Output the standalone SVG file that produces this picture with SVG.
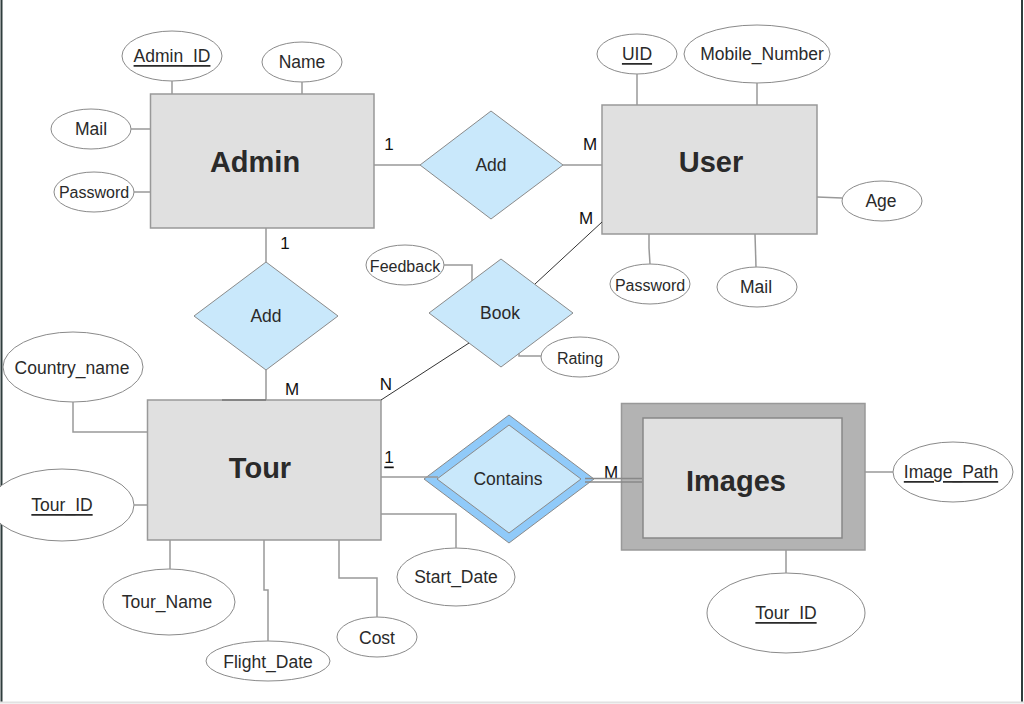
<svg xmlns="http://www.w3.org/2000/svg" width="1024" height="704" viewBox="0 0 1024 704">
<style>
text{font-family:"Liberation Sans",Arial,sans-serif;fill:#2a2a2a;text-anchor:middle;dominant-baseline:central}
.ent{fill:#e0e0e0;stroke:#999;stroke-width:1.5}
.et{font-size:29px;font-weight:bold}
.att{fill:#fff;stroke:#8a8a8a;stroke-width:1}
.at{font-size:17.5px}
.sm{font-size:16px}
.rel{fill:#c9e8fb;stroke:#8a8a8a;stroke-width:1}
.rt{font-size:17.5px}
.card{font-size:17px;fill:#111}
.u{text-decoration:underline}
.c{fill:none;stroke:#999;stroke-width:1.5}
.k{fill:none;stroke:#333;stroke-width:1}
</style>
<rect x="0" y="0" width="1024" height="704" fill="#fff"/>
<line x1="1.5" y1="0" x2="1.5" y2="702" stroke="#2f3d3d" stroke-width="2"/>
<line x1="1022" y1="0" x2="1022" y2="702" stroke="#2f3d3d" stroke-width="2"/>
<line x1="0" y1="702.5" x2="1024" y2="702.5" stroke="#e2e2e2" stroke-width="2"/>

<g id="admin">
<rect class="ent" x="150.5" y="94" width="223.5" height="134"/>
<text class="et" x="255" y="162">Admin</text>
</g>
<g id="admin_id"><ellipse class="att" cx="172" cy="56" rx="50" ry="25"/><text class="at u" x="172" y="56">Admin_ID</text></g>
<g id="admin_name"><ellipse class="att" cx="302" cy="62" rx="40" ry="20"/><text class="at" x="302" y="62">Name</text></g>
<g id="admin_mail"><ellipse class="att" cx="91" cy="129" rx="40" ry="20"/><text class="at" x="91" y="129">Mail</text></g>
<g id="admin_password"><ellipse class="att" cx="94" cy="192" rx="40" ry="20"/><text class="sm" x="94" y="192">Password</text></g>

<g id="rel_add_user">
<polygon class="rel" points="491,111 563,165 491,219 420,165"/>
<text class="rt" x="491" y="165">Add</text>
</g>
<text class="card" x="389" y="144">1</text>
<text class="card" x="590" y="144">M</text>

<g id="user">
<rect class="ent" x="602" y="105" width="215" height="129"/>
<text class="et" x="711" y="162">User</text>
</g>
<g id="user_uid"><ellipse class="att" cx="637" cy="54" rx="40" ry="20"/><text class="at u" x="637" y="54">UID</text></g>
<g id="user_mobile"><ellipse class="att" cx="757" cy="54" rx="73" ry="29"/><text class="at" x="762" y="54">Mobile_Number</text></g>
<g id="user_age"><ellipse class="att" cx="882" cy="201" rx="40" ry="20"/><text class="at" x="881" y="201">Age</text></g>
<g id="user_password"><ellipse class="att" cx="650" cy="284" rx="40" ry="20"/><text class="sm" x="650" y="285">Password</text></g>
<g id="user_mail"><ellipse class="att" cx="757" cy="287" rx="40" ry="20"/><text class="at" x="756" y="287">Mail</text></g>

<g id="rel_book">
<polygon class="rel" points="501,259 573,313 501,367 429,313"/>
<text class="rt" x="500" y="313">Book</text>
</g>
<text class="card" x="586" y="218">M</text>
<text class="card" x="386" y="384">N</text>
<g id="book_feedback"><ellipse class="att" cx="405" cy="265" rx="39" ry="20"/><text class="sm" x="405" y="266">Feedback</text></g>
<g id="book_rating"><ellipse class="att" cx="580" cy="357" rx="39" ry="20"/><text class="sm" x="580" y="358">Rating</text></g>

<g id="rel_add_tour">
<polygon class="rel" points="266,262 338,316 266,370 194,316"/>
<text class="rt" x="266" y="316">Add</text>
</g>
<text class="card" x="285" y="243">1</text>
<text class="card" x="292" y="389">M</text>

<g id="tour">
<rect class="ent" x="147.5" y="400" width="233.5" height="140"/>
<text class="et" x="260" y="468">Tour</text>
</g>
<g id="tour_country"><ellipse class="att" cx="73" cy="367" rx="70" ry="35"/><text class="at" x="72" y="368">Country_name</text></g>
<g id="tour_id"><ellipse class="att" cx="62" cy="505" rx="72" ry="36"/><text class="at u" x="62" y="505">Tour_ID</text></g>
<g id="tour_name"><ellipse class="att" cx="169" cy="602" rx="66" ry="33"/><text class="at" x="167" y="602">Tour_Name</text></g>
<g id="tour_flight"><ellipse class="att" cx="268" cy="661" rx="62" ry="20"/><text class="at" x="268" y="662">Flight_Date</text></g>
<g id="tour_cost"><ellipse class="att" cx="377" cy="637" rx="40" ry="20"/><text class="at" x="377" y="638">Cost</text></g>
<g id="tour_start"><ellipse class="att" cx="456" cy="577" rx="59" ry="29"/><text class="at" x="456" y="577">Start_Date</text></g>

<g id="rel_contains">
<polygon points="509,415 594,479 509,543 424,479" fill="#90caf9" stroke="#8a8a8a" stroke-width="1"/>
<polygon points="509,425 581,479 509,533 437,479" fill="#c9e8fb" stroke="#8a8a8a" stroke-width="1"/>
<text class="rt" x="508" y="479">Contains</text>
</g>
<text class="card u" x="389" y="457">1</text>
<text class="card" x="611" y="472">M</text>

<g id="images">
<rect x="621.5" y="403.5" width="243.5" height="146.5" fill="#b3b3b3" stroke="#999" stroke-width="1.5"/>
<rect x="643" y="418" width="199" height="120" fill="#e0e0e0" stroke="#888" stroke-width="1.5"/>
<text class="et" x="736" y="481">Images</text>
</g>
<g id="images_path"><ellipse class="att" cx="953" cy="472" rx="60" ry="30"/><text class="at u" x="951" y="472">Image_Path</text></g>
<g id="images_tour_id"><ellipse class="att" cx="786" cy="613" rx="79" ry="40"/><text class="at u" x="786" y="613">Tour_ID</text></g>

<g id="connectors">
<line class="c" x1="172" y1="81" x2="172" y2="94"/>
<line class="c" x1="302" y1="82" x2="302" y2="94"/>
<line class="c" x1="131" y1="129" x2="150" y2="129"/>
<line class="c" x1="134" y1="192" x2="150" y2="192"/>
<line class="c" x1="374" y1="165" x2="420" y2="165"/>
<line class="c" x1="563" y1="165" x2="602" y2="165"/>
<line class="c" x1="266" y1="228" x2="266" y2="262"/>
<line class="c" x1="266" y1="370" x2="266" y2="400"/>
<line x1="222" y1="400" x2="266" y2="400" stroke="#777" stroke-width="1.5"/>
<line class="c" x1="637" y1="74" x2="637" y2="105"/>
<line class="c" x1="757" y1="83" x2="757" y2="105"/>
<polyline class="c" points="817,197 842,198"/>
<polyline class="c" points="649,234 649,248 650,264"/>
<polyline class="c" points="755,234 756,267"/>
<line class="k" x1="535" y1="284" x2="602" y2="222"/>
<line class="k" x1="469" y1="343" x2="381" y2="400"/>
<polyline class="c" points="444,265 472,265 472,281"/>
<polyline class="c" points="519,353 519,356 541,356"/>
<polyline class="c" points="73,402 73,432 147,432"/>
<line class="c" x1="134" y1="505" x2="147" y2="505"/>
<line class="c" x1="170" y1="540" x2="170" y2="569"/>
<polyline class="c" points="264,540 264,590 268,590 268,641"/>
<polyline class="c" points="339,540 339,578 377,578 377,617"/>
<polyline class="c" points="381,514 456,514 456,548"/>
<line class="c" x1="381" y1="477" x2="438" y2="477"/>
<line x1="585" y1="478.5" x2="642" y2="478.5" stroke="#888" stroke-width="1.5"/>
<line x1="585" y1="482" x2="642" y2="482" stroke="#888" stroke-width="1.5"/>
<line class="c" x1="865" y1="472" x2="893" y2="472"/>
<line class="c" x1="786" y1="550" x2="786" y2="573"/>
</g>
</svg>
